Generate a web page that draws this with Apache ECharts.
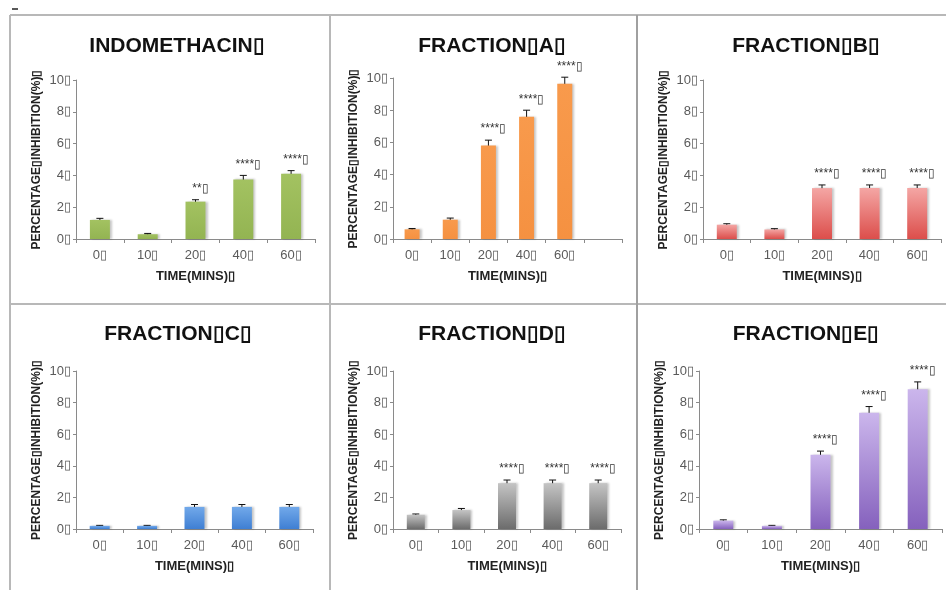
<!DOCTYPE html>
<html>
<head>
<meta charset="utf-8">
<script src="https://cdn.jsdelivr.net/npm/echarts@6/dist/echarts.min.js"></script>
<style>
  html, body { margin: 0; padding: 0; background: #fff; }
  #chart { width: 946px; height: 590px; }
</style>
</head>
<body>
<div id="chart"></div>
<script>
// Time points (minutes) and axis tick texts
const categories = ['0\u25AF', '10\u25AF', '20\u25AF', '40\u25AF', '60\u25AF'];
const categoriesA = ['0\u25AF', '10\u25AF', '20\u25AF', '40\u25AF', '60\u25AF', ''];
const yTickLabels = ['0\u25AF', '2\u25AF', '4\u25AF', '6\u25AF', '8\u25AF', '10\u25AF'];

// Percentage inhibition, error (±) and significance marks per panel
const indomethacin = [12, 3, 23.5, 37.5, 41];
const indomethacinErr = [1, 0.5, 1.2, 2.5, 2];
const indomethacinSig = ['', '', '**', '****', '****'];

const fractionA = [6, 12, 58, 76, 96.5];
const fractionAErr = [0.5, 1, 3.4, 4, 4];
const fractionASig = ['', '', '****', '****', '****'];

const fractionB = [9, 6, 32, 32, 32];
const fractionBErr = [0.6, 0.5, 2, 2, 2];
const fractionBSig = ['', '', '****', '****', '****'];

const fractionC = [2, 2, 14, 14, 14];
const fractionCErr = [0.3, 0.3, 1.5, 1.5, 1.5];
const fractionCSig = ['', '', '', '', ''];

const fractionD = [9, 12, 29, 29, 29];
const fractionDErr = [0.5, 1, 2, 2, 2];
const fractionDSig = ['', '', '****', '****', '****'];

const fractionE = [5.3, 2, 47, 73.5, 88.5];
const fractionEErr = [0.5, 0.3, 2.3, 4, 4.6];
const fractionESig = ['', '', '****', '****', '****'];

const titles = ['INDOMETHACIN\u25AF', 'FRACTION\u25AFA\u25AF', 'FRACTION\u25AFB\u25AF',
                'FRACTION\u25AFC\u25AF', 'FRACTION\u25AFD\u25AF', 'FRACTION\u25AFE\u25AF'];
const yName = 'PERCENTAGE\u25AFINHIBITION(%)\u25AF';
const xName = 'TIME(MINS)\u25AF';

const FONT = '"Liberation Sans", Arial, sans-serif';

function grad(top, bottom) {
  return new echarts.graphic.LinearGradient(0, 0, 0, 1, [
    { offset: 0, color: top }, { offset: 1, color: bottom }
  ]);
}

const panels = [
  { values: indomethacin, err: indomethacinErr, sig: indomethacinSig, cats: categories,
    grid: { left: 76, top: 80, width: 239, height: 159 }, barWidth: 20,
    color: grad('#a3c261', '#93b452'), titleX: 177, titleY: 46 },
  { values: fractionA, err: fractionAErr, sig: fractionASig, cats: categoriesA,
    grid: { left: 393, top: 78, width: 229, height: 161 }, barWidth: 15,
    color: grad('#f89a4c', '#f59141'), titleX: 492, titleY: 46 },
  { values: fractionB, err: fractionBErr, sig: fractionBSig, cats: categories,
    grid: { left: 703, top: 80, width: 238, height: 159 }, barWidth: 20,
    color: grad('#f4a6a4', '#dc4e4b'), titleX: 806, titleY: 46 },
  { values: fractionC, err: fractionCErr, sig: fractionCSig, cats: categories,
    grid: { left: 76, top: 371, width: 237, height: 158 }, barWidth: 20,
    color: grad('#72a9ea', '#3f7fd3'), titleX: 178, titleY: 334 },
  { values: fractionD, err: fractionDErr, sig: fractionDSig, cats: categories,
    grid: { left: 393, top: 371, width: 228, height: 158 }, barWidth: 18,
    color: grad('#c4c4c4', '#6c6c6c'), titleX: 492, titleY: 334 },
  { values: fractionE, err: fractionEErr, sig: fractionESig, cats: categories,
    grid: { left: 699, top: 371, width: 243, height: 158 }, barWidth: 20,
    color: grad('#cbb6ec', '#8561bd'), titleX: 806, titleY: 334 }
];

const grids = [], xAxes = [], yAxes = [], series = [];
const graphics = [];

panels.forEach((p, i) => {
  grids.push(Object.assign({ containLabel: false }, p.grid));
  xAxes.push({
    type: 'category', gridIndex: i, data: p.cats,
    name: xName, nameLocation: 'middle', nameGap: 31,
    nameTextStyle: { fontFamily: FONT, fontWeight: 'bold', fontSize: 13, color: '#222' },
    axisLine: { lineStyle: { color: '#8a8a8a', width: 1 } },
    axisTick: { show: true, alignWithLabel: false, length: 4, lineStyle: { color: '#8a8a8a' } },
    axisLabel: { fontFamily: FONT, fontSize: 13, color: '#5a5a5a', margin: 10, interval: 0 }
  });
  yAxes.push({
    type: 'value', gridIndex: i, min: 0, max: 100, interval: 20,
    name: yName, nameLocation: 'middle', nameGap: 33,
    nameTextStyle: { fontFamily: FONT, fontWeight: 'bold', fontSize: 12, color: '#222' },
    axisLine: { show: true, lineStyle: { color: '#8a8a8a', width: 1 } },
    axisTick: { show: true, length: 3, lineStyle: { color: '#8a8a8a' } },
    splitLine: { show: false },
    axisLabel: {
      fontFamily: FONT, fontSize: 13, color: '#5a5a5a', margin: 5,
      formatter: v => yTickLabels[Math.round(v / 20)]
    }
  });
  series.push({
    type: 'bar', xAxisIndex: i, yAxisIndex: i, data: p.values, barWidth: p.barWidth,
    itemStyle: {
      color: p.color, shadowColor: 'rgba(0,0,0,0.22)', shadowBlur: 2, shadowOffsetX: 2
    },
    silent: true, animation: false
  });
  series.push({
    type: 'custom', xAxisIndex: i, yAxisIndex: i, animation: false, silent: true,
    data: p.values.map((v, k) => [k, v, p.err[k], p.sig[k]]),
    encode: { x: 0, y: 1 },
    renderItem: (params, api) => {
      const k = api.value(0), v = api.value(1), e = api.value(2);
      const sig = p.sig[k];
      const top = api.coord([k, v + e]);
      const bot = api.coord([k, v - e]);
      const cap = 3.5;
      const children = [
        { type: 'line', shape: { x1: top[0], y1: top[1], x2: bot[0], y2: bot[1] },
          style: { stroke: '#111', lineWidth: 1 } },
        { type: 'line', shape: { x1: top[0] - cap, y1: top[1], x2: top[0] + cap, y2: top[1] },
          style: { stroke: '#111', lineWidth: 1 } },
        { type: 'line', shape: { x1: bot[0] - cap, y1: bot[1], x2: bot[0] + cap, y2: bot[1] },
          style: { stroke: '#111', lineWidth: 1 } }
      ];
      if (sig) {
        children.push({
          type: 'text', x: top[0] + 5, y: top[1] - 5,
          style: { text: sig + '\u25AF', fill: '#333', font: '12px ' + FONT,
                   align: 'center', verticalAlign: 'bottom' }
        });
      }
      return { type: 'group', children };
    }
  });
  graphics.push({
    type: 'text', x: p.titleX, y: p.titleY,
    style: { text: titles[i], fill: '#111', font: 'bold 21px ' + FONT,
             align: 'center', verticalAlign: 'middle' }
  });
});

// Panel frame lines
const frame = '#b8b8b8';
[[10, 15, 946, 15], [10, 304, 946, 304], [10, 15, 10, 590], [330, 15, 330, 590], [637, 15, 637, 590]]
  .forEach(l => graphics.push({
    type: 'line', shape: { x1: l[0], y1: l[1], x2: l[2], y2: l[3] },
    style: { stroke: l[0] === 637 && l[2] === 637 ? '#a0a0a0' : frame, lineWidth: 2 }, silent: true
  }));
graphics.push({ type: 'line', shape: { x1: 12, y1: 9, x2: 18, y2: 9 },
                style: { stroke: '#222', lineWidth: 1.5 } });

const chart = echarts.init(document.getElementById('chart'), null, { renderer: 'canvas' });
chart.setOption({
  animation: false,
  backgroundColor: '#fff',
  grid: grids, xAxis: xAxes, yAxis: yAxes, series: series,
  graphic: graphics
});
</script>
</body>
</html>
